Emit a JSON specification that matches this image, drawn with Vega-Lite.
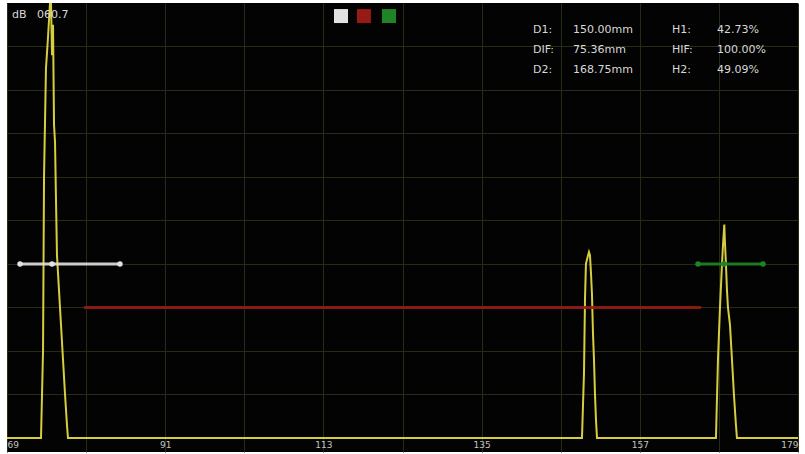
{
  "$schema": "https://vega.github.io/schema/vega-lite/v6.json",
  "width": 791,
  "height": 449,
  "autosize": {"type": "none"},
  "padding": {"left": 7, "top": 3, "right": 7, "bottom": 2},
  "background": "white",
  "config": {"view": {"fill": "#030303", "stroke": null}, "font": "DejaVu Sans"},
  "datasets": {
    "wave": [
      {"x": 69, "y": 0}, {"x": 73.73, "y": 0}, {"x": 74.01, "y": 20}, {"x": 74.15, "y": 60}, {"x": 74.42, "y": 85},
      {"x": 74.70, "y": 92}, {"x": 74.98, "y": 100}, {"x": 75.12, "y": 100}, {"x": 75.26, "y": 88}, {"x": 75.40, "y": 95},
      {"x": 75.54, "y": 72}, {"x": 75.68, "y": 68}, {"x": 75.81, "y": 55}, {"x": 75.95, "y": 42}, {"x": 76.23, "y": 34},
      {"x": 76.51, "y": 26}, {"x": 76.79, "y": 18}, {"x": 77.07, "y": 10}, {"x": 77.34, "y": 3}, {"x": 77.48, "y": 0},
      {"x": 148.96, "y": 0}, {"x": 149.24, "y": 15}, {"x": 149.38, "y": 32}, {"x": 149.51, "y": 40}, {"x": 149.65, "y": 41},
      {"x": 149.93, "y": 42.73}, {"x": 150.07, "y": 42}, {"x": 150.21, "y": 38}, {"x": 150.35, "y": 33}, {"x": 150.49, "y": 24},
      {"x": 150.63, "y": 18}, {"x": 150.77, "y": 10}, {"x": 150.91, "y": 4}, {"x": 151.05, "y": 0},
      {"x": 167.59, "y": 0}, {"x": 167.87, "y": 18}, {"x": 168.15, "y": 30}, {"x": 168.43, "y": 40}, {"x": 168.56, "y": 44},
      {"x": 168.75, "y": 49.09}, {"x": 168.84, "y": 45}, {"x": 168.98, "y": 40}, {"x": 169.12, "y": 34}, {"x": 169.26, "y": 30},
      {"x": 169.54, "y": 26}, {"x": 169.82, "y": 18}, {"x": 170.09, "y": 10}, {"x": 170.37, "y": 3}, {"x": 170.51, "y": 0},
      {"x": 179, "y": 0}
    ],
    "gates": [
      {"gate": "white", "x1": 70.81, "x2": 84.71, "y": 40},
      {"gate": "red", "x1": 79.85, "x2": 165.37, "y": 30},
      {"gate": "green", "x1": 165.09, "x2": 174.13, "y": 40}
    ],
    "dots": [
      {"gate": "white", "x": 70.81, "y": 40},
      {"gate": "white", "x": 84.71, "y": 40},
      {"gate": "white", "x": 75.26, "y": 40},
      {"gate": "green", "x": 165.09, "y": 40},
      {"gate": "green", "x": 174.13, "y": 40},
      {"gate": "green", "x": 168.70, "y": 40}
    ],
    "swatches": [
      {"gate": "white", "x": 115.45, "y": 97.0},
      {"gate": "red", "x": 118.64, "y": 97.0},
      {"gate": "green", "x": 122.12, "y": 97.0}
    ],
    "texts": [
      {"label": "dB", "x": 69.70, "y": 97.2},
      {"label": "060.7", "x": 73.17, "y": 97.2},
      {"label": "D1:", "x": 142.15, "y": 93.8},
      {"label": "150.00mm", "x": 147.71, "y": 93.8},
      {"label": "H1:", "x": 161.47, "y": 93.8},
      {"label": "42.73%", "x": 167.73, "y": 93.8},
      {"label": "DIF:", "x": 142.15, "y": 89.2},
      {"label": "75.36mm", "x": 147.71, "y": 89.2},
      {"label": "HIF:", "x": 161.47, "y": 89.2},
      {"label": "100.00%", "x": 167.73, "y": 89.2},
      {"label": "D2:", "x": 142.15, "y": 84.6},
      {"label": "168.75mm", "x": 147.71, "y": 84.6},
      {"label": "H2:", "x": 161.47, "y": 84.6},
      {"label": "49.09%", "x": 167.73, "y": 84.6}
    ]
  },
  "layer": [
    {
      "data": {"name": "wave"},
      "mark": {"type": "line", "color": "#d6ce3e", "strokeWidth": 2, "clip": true},
      "encoding": {
        "x": {
          "field": "x", "type": "quantitative",
          "scale": {"domain": [69, 179], "nice": false, "zero": false},
          "axis": {
            "title": null,
            "values": [69, 80, 91, 102, 113, 124, 135, 146, 157, 168, 179],
            "labelExpr": "(datum.value - 69) % 22 === 0 ? datum.label : ''",
            "labelFlush": true,
            "labelPadding": -12,
            "labelColor": "#c4c4c4",
            "labelFontSize": 9,
            "domain": false,
            "ticks": false,
            "grid": true,
            "gridColor": "#252d17",
            "gridWidth": 1
          }
        },
        "y": {
          "field": "y", "type": "quantitative",
          "scale": {"domain": [-3.22, 100], "nice": false, "zero": false},
          "axis": {
            "title": null,
            "values": [10, 20, 30, 40, 50, 60, 70, 80, 90],
            "labels": false,
            "domain": false,
            "ticks": false,
            "grid": true,
            "gridColor": "#252d17",
            "gridWidth": 1
          }
        }
      }
    },
    {
      "data": {"name": "gates"},
      "mark": {"type": "rule", "strokeWidth": 3, "strokeCap": "round", "opacity": 0.9},
      "encoding": {
        "x": {"field": "x1", "type": "quantitative"},
        "x2": {"field": "x2"},
        "y": {"field": "y", "type": "quantitative"},
        "color": {
          "field": "gate", "type": "nominal",
          "scale": {"domain": ["white", "red", "green"], "range": ["#e2e2e2", "#961b14", "#1f8424"]},
          "legend": null
        }
      }
    },
    {
      "data": {"name": "dots"},
      "mark": {"type": "circle", "size": 30, "opacity": 1},
      "encoding": {
        "x": {"field": "x", "type": "quantitative"},
        "y": {"field": "y", "type": "quantitative"},
        "color": {"field": "gate", "type": "nominal", "legend": null}
      }
    },
    {
      "data": {"name": "swatches"},
      "mark": {"type": "point", "shape": "square", "filled": true, "size": 196, "opacity": 1},
      "encoding": {
        "x": {"field": "x", "type": "quantitative"},
        "y": {"field": "y", "type": "quantitative"},
        "color": {"field": "gate", "type": "nominal", "legend": null}
      }
    },
    {
      "data": {"name": "texts"},
      "mark": {"type": "text", "align": "left", "baseline": "middle", "color": "#d8d8d8", "fontSize": 11},
      "encoding": {
        "x": {"field": "x", "type": "quantitative"},
        "y": {"field": "y", "type": "quantitative"},
        "text": {"field": "label", "type": "nominal"}
      }
    }
  ]
}
